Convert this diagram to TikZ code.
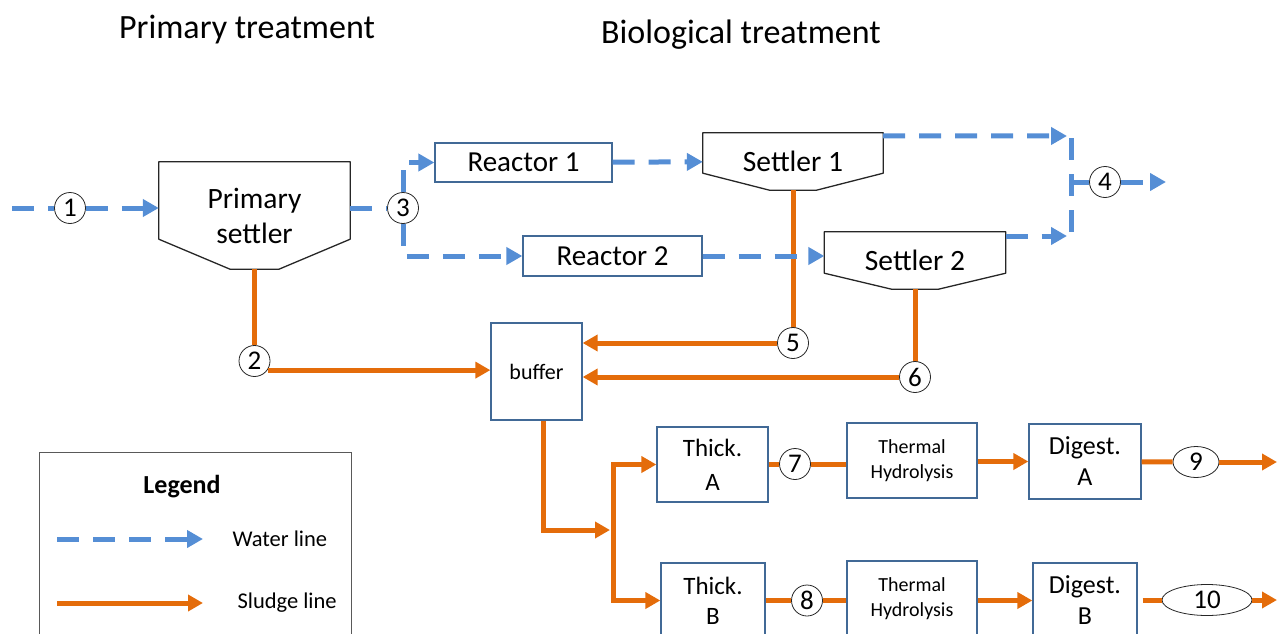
\documentclass[tikz,border=0pt]{standalone}
\usepackage{fontspec}
\setmainfont{Carlito}
\usetikzlibrary{arrows.meta,shapes.geometric}

\definecolor{waterblue}{RGB}{85,142,213}
\definecolor{sludgeorange}{RGB}{228,108,10}
\definecolor{boxblue}{RGB}{65,105,150}
\definecolor{settlergray}{RGB}{38,38,38}

\newcommand{\fs}[2]{\fontsize{#1}{#2}\selectfont}
\newcommand{\settleroutline}[3]{%
  \draw[settlergray, line width=1.3pt, line join=round]
    (#1.north west) -- (#1.north east) -- ([yshift=#2]#1.south east)
    -- ([xshift=#3]#1.south) -- ([xshift=-#3]#1.south)
    -- ([yshift=#2]#1.south west) -- cycle;}

\begin{document}
\begin{tikzpicture}[x=1pt, y=-1pt,
  water/.style={line width=5pt, draw=waterblue, dash pattern=on 22pt off 14pt},
  waterarrow/.style={water, -{Triangle[length=16pt,width=17pt]}},
  sludge/.style={line width=5pt, draw=sludgeorange},
  sludgearrow/.style={sludge, -{Triangle[length=15pt,width=16pt]}},
  unitbox/.style={draw=boxblue, line width=1.3pt, fill=white, inner sep=0pt, align=center},
  settlerbox/.style={inner sep=0pt, align=center, minimum width=181pt, minimum height=57pt, font=\fs{29.5}{35}},
  numcirc/.style={circle, draw=settlergray, line width=0.8pt, fill=white, minimum size=31pt, inner sep=0pt, font=\fs{27}{30}},
  numoval/.style={ellipse, draw=settlergray, line width=0.8pt, fill=white, minimum height=31pt, inner sep=0pt, font=\fs{27}{30}}]
  \useasboundingbox (0,0) rectangle (1277,634);
  \clip (0,0) rectangle (1277,634);

  \node[font=\fs{34}{40}] (primtitle) at (247,30) {Primary treatment};
  \node[font=\fs{34}{40}] (biotitle) at (741,35) {Biological treatment};

  \node[settlerbox, minimum width=191pt, minimum height=107pt] (ps) at (254.5,215.5) {Primary\\settler};
  \settleroutline{ps}{30pt}{24.5pt}
  \node[settlerbox, minimum width=180pt] (s1) at (793,161.5) {Settler 1};
  \settleroutline{s1}{17pt}{23.5pt}
  \node[settlerbox] (s2) at (915,260.5) {Settler 2};
  \settleroutline{s2}{16pt}{23.5pt}

  \node[unitbox, minimum width=177pt, minimum height=39pt, font=\fs{29}{34}] (r1) at (523.5,162.5) {Reactor 1};
  \node[unitbox, minimum width=179pt, minimum height=40pt, font=\fs{29}{34}] (r2) at (612.5,256) {Reactor 2};
  \node[unitbox, minimum width=91pt, minimum height=97pt, font=\fs{22}{26}] (buf) at (536.5,371.5) {buffer};

  \node[unitbox, minimum width=111pt, minimum height=75pt, font=\fs{25}{34}] (tA) at (712.5,464.5) {Thick.\\A};
  \node[unitbox, minimum width=130pt, minimum height=75pt, font=\fs{20}{25}] (thA) at (912,460.5) {Thermal\\Hydrolysis};
  \node[unitbox, minimum width=112pt, minimum height=75pt, font=\fs{26}{31}] (dA) at (1085,461.5) {Digest.\\A};
  \node[unitbox, minimum width=104pt, minimum height=75pt, font=\fs{25}{30}] (tB) at (713,600.5) {Thick.\\B};
  \node[unitbox, minimum width=130pt, minimum height=75pt, font=\fs{20}{25}] (thB) at (912,598.5) {Thermal\\Hydrolysis};
  \node[unitbox, minimum width=104pt, minimum height=75pt, font=\fs{26}{31}] (dB) at (1085,600.5) {Digest.\\B};

  \coordinate (in1) at (12,208);
  \coordinate (jtop) at (1067,136);
  \coordinate (jbot) at (1067,236);
  \coordinate (vtop) at (1071,138);
  \coordinate (vbot) at (1071,234);
  \coordinate (vmid) at (1073,182);
  \coordinate (out4) at (1166,182);
  \coordinate (fork) at (613,530);
  \coordinate (outA) at (1277,462);
  \coordinate (outB) at (1277,600);

  \draw[sludge] (ps.south) -- (254.5,345);
  \draw[sludge] (s1.south) -- (793,328);
  \draw[sludge] (s2.south) -- (915,362);

  \node[numcirc] (c1) at (70,208) {1};
  \node[numcirc] (c2) at (254.5,361) {2};
  \node[numcirc] (c3) at (403,208) {3};
  \node[numcirc] (c4) at (1105,182) {4};
  \node[numcirc] (c5) at (793,343) {5};
  \node[numcirc] (c6) at (915,377) {6};
  \node[numcirc] (c7) at (795,464) {7};
  \node[numcirc] (c8) at (807,600.5) {8};
  \node[numoval, minimum width=46pt] (c9) at (1196,462) {9};
  \node[numoval, minimum width=90pt] (c10) at (1207,600) {10};

  \draw[sludgearrow] (c2.-35) -- (c2.-35 -| buf.west);
  \draw[sludgearrow] (c5) -- (c5 -| buf.east);
  \draw[sludgearrow] (c6) -- (c6 -| buf.east);
  \draw[sludgearrow] ([xshift=6.5pt]buf.south) |- ([xshift=-3pt]fork);
  \draw[sludgearrow] (fork) |- (tA.west);
  \draw[sludgearrow] (fork) |- (tB.west);

  \draw[sludge] (tA.east |- c7) -- (c7);
  \draw[sludge] (c7) -- (c7 -| thA.west);
  \draw[sludgearrow] (thA.east |- dA) -- (dA.west);
  \draw[sludge] (dA) -- (c9);
  \draw[sludgearrow] (c9) -- (outA);
  \draw[sludge] (tB) -- (c8);
  \draw[sludge] (c8) -- (c8 -| thB.west);
  \draw[sludgearrow] (thB.east |- dB) -- (dB.west);
  \draw[sludge] ([xshift=5pt]dB.east |- c10) -- (c10);
  \draw[sludgearrow] (c10) -- (outB);

  \draw[water] (in1) -- (c1);
  \draw[waterarrow] (c1) -- (c1 -| ps.west);
  \draw[water] (c1 -| ps.east) -- (c3);
  \draw[waterarrow] (c3.north) |- (r1.west);
  \draw[waterarrow] (c3.south) |- (r2.west);
  \draw[waterarrow] (r1) -- (s1);
  \draw[waterarrow] (r2) -- (r2 -| s2.west);
  \draw[waterarrow] ([yshift=-3pt]s1.north east) -- (jtop);
  \draw[waterarrow] (s2.east |- jbot) -- (jbot);
  \draw[water] (vtop) -- (vbot);
  \draw[water] (vmid) -- (c4);
  \draw[waterarrow] (c4) -- (out4);

  \node[draw=gray!70!black, line width=1pt, minimum width=312pt, minimum height=208pt, inner sep=0pt] (legend) at (195,556) {};
  \node[font=\bfseries\fs{26}{30}] (legendtitle) at (182,487) {Legend};
  \coordinate (wl1) at (57,539);
  \coordinate (wl2) at (203,539);
  \coordinate (sl1) at (57,603);
  \coordinate (sl2) at (203,603);
  \draw[waterarrow] (wl1) -- (wl2);
  \draw[sludgearrow] (sl1) -- (sl2);
  \node[anchor=west, font=\fs{22.5}{26}] (wltext) at (229,539) {Water line};
  \node[anchor=west, font=\fs{22.5}{26}] (sltext) at (234,603) {Sludge line};
\end{tikzpicture}
\end{document}
